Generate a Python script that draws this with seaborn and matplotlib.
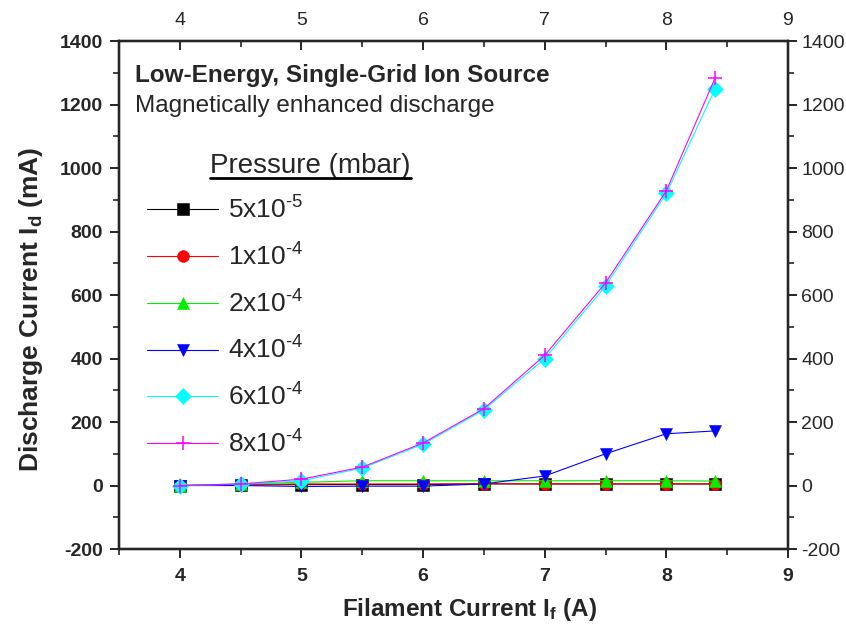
import numpy as np
import pandas as pd
import seaborn as sns
import matplotlib.pyplot as plt
from matplotlib.ticker import MultipleLocator

# filament current (A)
current = [4.0, 4.5, 5.0, 5.5, 6.0, 6.5, 7.0, 7.5, 8.0, 8.4]

# discharge current (mA) for each pressure
p_5e5 = [0, 2, 3, 3, 3, 5, 5, 5, 5, 5]
p_1e4 = [0, 3, 5, 5, 5, 6, 5, 5, 5, 5]
p_2e4 = [0, 5, 10, 15, 15, 15, 15, 15, 15, 14]
p_4e4 = [0, 0, -3, -2, -2, 5, 30, 100, 163, 172]
p_6e4 = [0, 4, 15, 55, 130, 238, 400, 628, 920, 1249]
p_8e4 = [0, 5, 20, 58, 134, 242, 410, 638, 928, 1283]

labels = ["5x10$^{\\text{-}5}$", "1x10$^{\\text{-}4}$", "2x10$^{\\text{-}4}$",
          "4x10$^{\\text{-}4}$", "6x10$^{\\text{-}4}$", "8x10$^{\\text{-}4}$"]
series = [p_5e5, p_1e4, p_2e4, p_4e4, p_6e4, p_8e4]
colors = ["black", "red", "#00ee00", "blue", "cyan", "magenta"]
markers = ["s", "o", "^", "v", "D", "+"]
msizes = [8.5, 8.5, 8.5, 8.5, 8.5, 10]

sns.set_style("ticks")
plt.rcParams['font.family'] = ['Liberation Sans', 'DejaVu Sans']
plt.rcParams['mathtext.fontset'] = 'custom'
plt.rcParams['mathtext.rm'] = 'Liberation Sans'
plt.rcParams['mathtext.it'] = 'Liberation Sans'
plt.rcParams['mathtext.bf'] = 'Liberation Sans:bold'
plt.rcParams['axes.unicode_minus'] = False

fig = plt.figure(figsize=(8.46, 6.35), dpi=100)
ax = fig.add_axes([0.1407, 0.1354, 0.7907, 0.8000])

for lab, vals, col, mk, ms in zip(labels, series, colors, markers, msizes):
    df = pd.DataFrame({"I_f": current, "I_d": vals})
    sns.lineplot(data=df, x="I_f", y="I_d", ax=ax, color=col, marker=mk,
                 markersize=ms, markeredgecolor=col,
                 markeredgewidth=1.1 if mk == "+" else 0.4,
                 linewidth=0.8, label=lab)

ax.set_xlim(3.5, 9)
ax.set_ylim(-200, 1400)
ax.xaxis.set_major_locator(MultipleLocator(1))
ax.xaxis.set_minor_locator(MultipleLocator(0.5))
ax.yaxis.set_major_locator(MultipleLocator(200))
ax.yaxis.set_minor_locator(MultipleLocator(100))
ax.tick_params(which="major", direction="out", length=6.5, width=1.4, labelsize=14)
ax.tick_params(which="minor", direction="out", length=4, width=1.2)
ax.tick_params(axis="x", which="major", pad=7)
ax.tick_params(axis="y", which="major", pad=5)
for t in ax.get_xticklabels() + ax.get_yticklabels():
    t.set_fontweight("bold")
for s in ax.spines.values():
    s.set_linewidth(1.6)

ax.set_xlabel("Filament Current I$_\\mathbf{f}$ (A)", fontsize=17.5, fontweight="bold", labelpad=8)
ax.set_ylabel("Discharge Current I$_\\mathbf{d}$ (mA)", fontsize=19, fontweight="bold", labelpad=11)
ax.xaxis.label.set_x(0.524)
ax.yaxis.label.set_y(0.472)

# right and top axes
axr = ax.twinx()
axr.set_ylim(-200, 1400)
axr.yaxis.set_major_locator(MultipleLocator(200))
axr.yaxis.set_minor_locator(MultipleLocator(100))
axr.tick_params(which="major", direction="out", length=6.5, width=1.4, labelsize=14, pad=3)
axr.tick_params(which="minor", direction="out", length=4, width=1.2)
axt = ax.twiny()
axt.set_xlim(3.5, 9)
axt.xaxis.set_major_locator(MultipleLocator(1))
axt.xaxis.set_minor_locator(MultipleLocator(0.5))
axt.tick_params(which="major", direction="in", length=6.5, width=1.4, labelsize=14, pad=9)
axt.tick_params(which="minor", direction="in", length=4, width=1.2)
for a in (axr, axt):
    for s in a.spines.values():
        s.set_linewidth(1.6)

ax.text(0.024, 0.919, "Low-Energy, Single-Grid Ion Source", transform=ax.transAxes,
        fontsize=17.5, fontweight="bold", va="baseline")
ax.text(0.024, 0.860, "Magnetically enhanced discharge", transform=ax.transAxes,
        fontsize=17.5, va="baseline")

leg = ax.legend(loc="upper left", bbox_to_anchor=(0.042, 0.694), frameon=False,
                fontsize=19, handlelength=2.7, labelspacing=0.74, handletextpad=0.35,
                borderpad=0, borderaxespad=0)

# legend heading, underlined
title = ax.text(0.136, 0.754, "Pressure (mbar)", transform=ax.transAxes,
                fontsize=20, va="center")
fig.canvas.draw()
tb = title.get_window_extent()
inv = fig.transFigure.inverted()
(x0, y0), (x1, y1) = inv.transform([[tb.x0, tb.y0], [tb.x1, tb.y1]])
fig.add_artist(plt.Line2D([x0, x1], [y0 + 0.001, y0 + 0.001], color="black",
                          linewidth=2, transform=fig.transFigure))

fig.savefig("out.png", dpi=100)
